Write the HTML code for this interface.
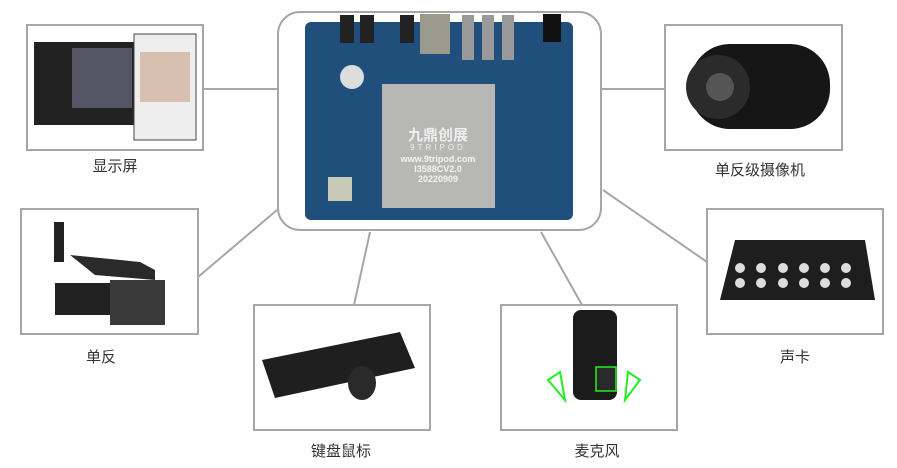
<!DOCTYPE html>
<html><head><meta charset="utf-8"><style>
body{margin:0;width:897px;height:463px;background:#fff;overflow:hidden;font-family:"Liberation Sans","Noto Sans CJK SC",sans-serif}
</style></head><body>
<svg width="897" height="463" xmlns="http://www.w3.org/2000/svg">
<g stroke="#a6a6a6" stroke-width="2" fill="none">
<line x1="203" y1="89" x2="277" y2="89"/>
<line x1="198" y1="277" x2="277" y2="210"/>
<line x1="354" y1="305" x2="370" y2="232"/>
<line x1="601" y1="89" x2="665" y2="89"/>
<line x1="603" y1="190" x2="707" y2="262"/>
<line x1="541" y1="232" x2="582" y2="305"/>
</g>
<rect x="278" y="12" width="323" height="218" rx="22" fill="#fff" stroke="#a6a6a6" stroke-width="2"/>
<g fill="#fff" stroke="#a6a6a6" stroke-width="2">
<rect x="27" y="25" width="176" height="125"/>
<rect x="21" y="209" width="177" height="125"/>
<rect x="254" y="305" width="176" height="125"/>
<rect x="665" y="25" width="177" height="125"/>
<rect x="707" y="209" width="176" height="125"/>
<rect x="501" y="305" width="176" height="125"/>
</g>
<!-- board -->
<rect x="305" y="22" width="268" height="198" rx="6" fill="#1f4f7a"/>
<rect x="420" y="14" width="30" height="40" fill="#9a9a8e"/>
<rect x="340" y="15" width="14" height="28" fill="#222"/><rect x="360" y="15" width="14" height="28" fill="#222"/><rect x="400" y="15" width="14" height="28" fill="#222"/>
<rect x="462" y="15" width="12" height="45" fill="#999"/><rect x="482" y="15" width="12" height="45" fill="#999"/><rect x="502" y="15" width="12" height="45" fill="#999"/>
<rect x="543" y="14" width="18" height="28" fill="#111"/>
<circle cx="352" cy="77" r="12" fill="#ddd"/>
<rect x="328" y="177" width="24" height="24" fill="#c9c9b8"/>
<rect x="382" y="84" width="113" height="124" fill="#b7b7b5"/>
<text x="438" y="140" font-size="15" fill="#eee" text-anchor="middle" font-weight="bold">九鼎创展</text>
<text x="438" y="150" font-size="8" fill="#eee" text-anchor="middle" letter-spacing="3">9TRIPOD</text>
<text x="438" y="162" font-size="9" fill="#f4f4f4" text-anchor="middle" font-weight="bold">www.9tripod.com</text>
<text x="438" y="172" font-size="9" fill="#f4f4f4" text-anchor="middle" font-weight="bold">I3588CV2.0</text>
<text x="438" y="182" font-size="9" fill="#f4f4f4" text-anchor="middle" font-weight="bold">20220909</text>
<!-- display -->
<rect x="34" y="42" width="110" height="83" fill="#222"/>
<rect x="72" y="48" width="60" height="60" fill="#556"/>
<rect x="134" y="34" width="62" height="106" fill="#eee" stroke="#444"/>
<rect x="140" y="52" width="50" height="50" fill="#d8c0b0"/>
<!-- DSLR -->
<rect x="110" y="280" width="55" height="45" fill="#3a3a3a"/>
<rect x="55" y="283" width="55" height="32" fill="#222"/>
<rect x="54" y="222" width="10" height="40" fill="#222"/>
<path d="M70 255 L140 262 L155 270 L155 280 L95 275 Z" fill="#2a2a2a"/>
<!-- keyboard -->
<path d="M262 360 L400 332 L415 368 L275 398 Z" fill="#1f1f1f"/>
<ellipse cx="362" cy="383" rx="14" ry="17" fill="#2a2a2a"/>
<!-- camera -->
<rect x="690" y="44" width="140" height="85" rx="40" fill="#161616"/>
<circle cx="718" cy="87" r="32" fill="#2b2b2b"/>
<circle cx="720" cy="87" r="14" fill="#555"/>
<!-- soundcard -->
<path d="M735 240 L865 240 L875 300 L720 300 Z" fill="#1e1e1e" rx="10"/>
<g fill="#ddd"><circle cx="740" cy="268" r="5"/><circle cx="761" cy="268" r="5"/><circle cx="783" cy="268" r="5"/><circle cx="804" cy="268" r="5"/><circle cx="825" cy="268" r="5"/><circle cx="846" cy="268" r="5"/>
<circle cx="740" cy="283" r="5"/><circle cx="761" cy="283" r="5"/><circle cx="783" cy="283" r="5"/><circle cx="804" cy="283" r="5"/><circle cx="825" cy="283" r="5"/><circle cx="846" cy="283" r="5"/></g>
<!-- mic -->
<rect x="573" y="310" width="44" height="90" rx="8" fill="#1b1b1b"/>
<rect x="596" y="367" width="20" height="24" fill="#2a2a2a" stroke="#2e2" stroke-width="1.5"/>
<path d="M548 380 L560 372 L565 400 Z M640 380 L628 372 L625 400 Z" fill="none" stroke="#2e2" stroke-width="2"/>
<g font-size="15" fill="#333" text-anchor="middle">
<text x="115" y="171">显示屏</text>
<text x="101" y="362">单反</text>
<text x="341" y="456">键盘鼠标</text>
<text x="760" y="175">单反级摄像机</text>
<text x="795" y="362">声卡</text>
<text x="597" y="456">麦克风</text>
</g>
</svg>
</body></html>
